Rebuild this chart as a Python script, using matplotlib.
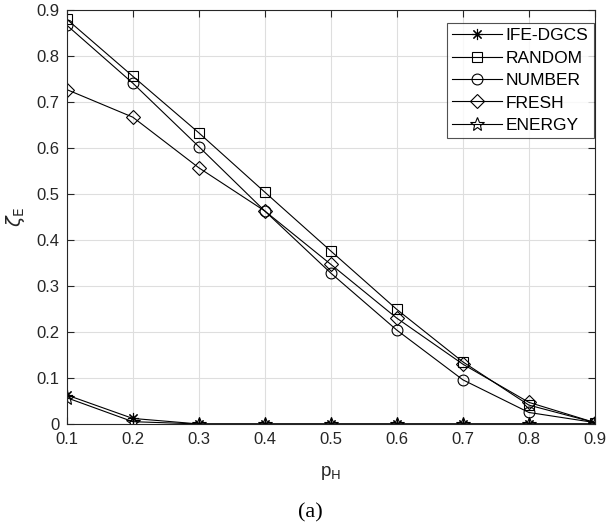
import matplotlib
matplotlib.use("Agg")
import matplotlib.pyplot as plt

p_H = [0.1, 0.2, 0.3, 0.4, 0.5, 0.6, 0.7, 0.8, 0.9]
ife_dgcs = [0.063, 0.012, 0.0, 0.0, 0.0, 0.0, 0.0, 0.0, 0.0]
random_ = [0.880, 0.756, 0.633, 0.504, 0.376, 0.249, 0.135, 0.041, 0.003]
number = [0.867, 0.741, 0.603, 0.463, 0.328, 0.204, 0.096, 0.025, 0.003]
fresh = [0.727, 0.667, 0.557, 0.463, 0.347, 0.230, 0.130, 0.047, 0.003]
energy = [0.057, 0.005, 0.0, 0.0, 0.0, 0.0, 0.0, 0.0, 0.0]

labels = ["IFE-DGCS", "RANDOM", "NUMBER", "FRESH", "ENERGY"]
series = [ife_dgcs, random_, number, fresh, energy]
xtick_labels = ["0.1", "0.2", "0.3", "0.4", "0.5", "0.6", "0.7", "0.8", "0.9"]
ytick_labels = ["0", "0.1", "0.2", "0.3", "0.4", "0.5", "0.6", "0.7", "0.8", "0.9"]

plt.rcParams['font.family'] = ['Liberation Sans', 'DejaVu Sans']

fig = plt.figure(figsize=(6.07, 5.26), dpi=100)
ax = fig.add_axes([0.110, 0.194, 0.870, 0.787])

styles = [
    dict(marker=(8, 2, 0), markersize=8),
    dict(marker='s', markersize=7.2),
    dict(marker='o', markersize=7.8),
    dict(marker='D', markersize=7.5),
    dict(marker='*', markersize=10),
]
for lab, ys, st in zip(labels, series, styles):
    ax.plot(p_H, ys, color='black', linewidth=0.8, markeredgecolor='black',
            markerfacecolor='none', markeredgewidth=0.8, label=lab, **st)

ax.set_xlim(0.1, 0.9)
ax.set_ylim(0, 0.9)
ax.set_xticks([float(t) for t in xtick_labels])
ax.set_yticks([float(t) for t in ytick_labels])
ax.set_xticklabels(xtick_labels)
ax.set_yticklabels(ytick_labels)
ax.grid(True, color='#dedede', linewidth=0.8)
ax.set_axisbelow(True)
for s in ax.spines.values():
    s.set_color('#262626')
    s.set_linewidth(0.8)
ax.tick_params(direction='in', length=5, width=0.8, colors='#262626', labelsize=12,
               top=True, right=True, pad=5)
ax.tick_params(axis='x', pad=6)

ax.set_xlabel(r"p$_\mathrm{H}$", fontsize=13.5, color='#262626', labelpad=12)
ax.set_ylabel(r"$\zeta_\mathrm{E}$", fontsize=14, color='#262626', labelpad=7)

leg = ax.legend(loc='upper right', bbox_to_anchor=(0.998, 0.969), fontsize=12.5,
                frameon=True, fancybox=False, edgecolor='#262626',
                handlelength=2.9, borderpad=0.3, labelspacing=0.42,
                handletextpad=0.2, borderaxespad=0)
leg.get_frame().set_linewidth(0.8)

fig.text(0.511, 0.025, "(a)", fontsize=16, family=['Liberation Serif', 'DejaVu Serif'],
         ha='center', va='center')

fig.savefig("out.png", dpi=100)
